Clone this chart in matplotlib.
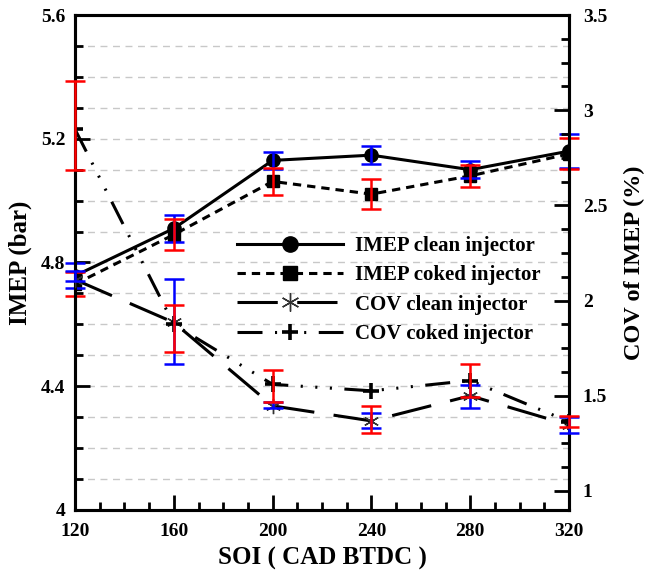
import matplotlib
matplotlib.use("Agg")
import matplotlib.pyplot as plt
from matplotlib.ticker import MultipleLocator
from matplotlib.lines import Line2D

# Start of injection sweep (CAD BTDC)
soi = [120, 160, 200, 240, 280, 320]

# IMEP (bar) with standard-deviation bars
imep_clean = [4.757, 4.91, 5.13, 5.147, 5.10, 5.16]
imep_clean_err = [0.040, 0.045, 0.027, 0.028, 0.027, 0.055]
imep_coked = [4.73, 4.89, 5.062, 5.021, 5.08, 5.151]
imep_coked_err = [0.039, 0.050, 0.043, 0.049, 0.036, 0.050]

# COV of IMEP (%) with bar midpoints and half-widths
cov_clean = [2.11, 1.885, 1.447, 1.368, 1.50, 1.347]
cov_clean_bar_mid = [2.13, 1.89, 1.45, 1.371, 1.495, 1.347]
cov_clean_bar_err = [0.025, 0.224, 0.016, 0.039, 0.059, 0.040]
cov_coked = [2.90, 1.875, 1.56, 1.526, 1.58, 1.364]
cov_coked_bar_mid = [2.92, 1.853, 1.55, 1.376, 1.58, 1.364]
cov_coked_bar_err = [0.233, 0.123, 0.085, 0.071, 0.086, 0.030]

plt.rcParams["font.family"] = ["Liberation Serif", "DejaVu Serif"]
plt.rcParams["font.weight"] = "bold"
plt.rcParams["lines.scale_dashes"] = False

W, H = 655, 574
fig = plt.figure(figsize=(W / 100, H / 100), dpi=100)
x0, x1, y0, y1 = 75, 569, 15, 510
ax = fig.add_axes([x0 / W, 1 - y1 / H, (x1 - x0) / W, (y1 - y0) / H])
ax2 = ax.twinx()

ax.set_xlim(120, 320)
ax.set_ylim(4, 5.6)
ax2.set_ylim(0.9, 3.5)

ax.xaxis.set_major_locator(MultipleLocator(40))
ax.xaxis.set_minor_locator(MultipleLocator(10))
ax.yaxis.set_major_locator(MultipleLocator(0.4))
ax.yaxis.set_minor_locator(MultipleLocator(0.1))
ax2.yaxis.set_major_locator(MultipleLocator(0.5))
ax2.yaxis.set_minor_locator(MultipleLocator(0.125))

ax.set_axisbelow(True)
ax.yaxis.grid(True, which="both", color="#c8c8c8", lw=1.0, ls=(0, (5, 4)))

for a in (ax, ax2):
    for s in a.spines.values():
        s.set_linewidth(2.2)
    a.tick_params(which="major", direction="in", length=11, width=2.0,
                  labelsize=14)
    a.tick_params(which="minor", direction="in", length=6, width=2.0)
ax.tick_params(axis="y", which="both", right=False, pad=7)
ax.tick_params(axis="x", which="both", top=False, pad=9)
ax2.tick_params(axis="y", which="both", left=False, pad=10)

ax.yaxis.set_major_formatter(plt.FuncFormatter(lambda v, p: f"{v:g}"))
ax2.yaxis.set_major_formatter(plt.FuncFormatter(lambda v, p: f"{v:g}"))

lw = 2.2
dash_imep = (0, (6, 4.3))
dash_cov_clean = (0, (29, 14))
dash_cov_coked = (0, (18, 9, 1.5, 9, 1.5, 9, 1.5, 9))

ax.plot(soi, imep_clean, color="black", lw=lw, ls="-", marker="o",
        ms=9.5, zorder=3)
ax.plot(soi, imep_coked, color="black", lw=lw, ls=dash_imep, marker="s",
        ms=8.5, zorder=3)
ax2.plot(soi, cov_clean, color="black", lw=lw, ls=dash_cov_clean,
         marker=(6, 2, 0), ms=11, mew=1.0, mec="#333333", zorder=3)
ax2.plot(soi, cov_coked, color="black", lw=lw, ls=dash_cov_coked,
         marker="+", ms=11, mew=2.6, zorder=3)


def bars(a, y, err, color):
    cont = a.errorbar(soi, y, yerr=err, fmt="none", ecolor=color,
                      elinewidth=1.8, capsize=7, capthick=1.8, zorder=5)
    for art in cont.get_children():
        art.set_clip_on(False)


bars(ax, imep_clean, imep_clean_err, "blue")
bars(ax, imep_coked, imep_coked_err, "red")
bars(ax2, cov_clean_bar_mid, cov_clean_bar_err, "blue")
bars(ax2, cov_coked_bar_mid, cov_coked_bar_err, "red")

for a in (ax, ax2):
    for t in a.get_xticklabels() + a.get_yticklabels():
        t.set_fontweight("bold")

ax.set_xlabel("SOI ( CAD BTDC )", fontsize=18, fontweight="bold", labelpad=5)
ax.set_ylabel("IMEP (bar)", fontsize=18, fontweight="bold", labelpad=6)
ax2.set_ylabel("COV of IMEP (%)", fontsize=17.5, fontweight="bold",
               labelpad=12)

handles = [
    Line2D([], [], color="black", lw=lw, ls="-", marker="o", ms=11),
    Line2D([], [], color="black", lw=lw, ls=dash_imep, marker="s", ms=10),
    Line2D([], [], color="black", lw=lw, ls=dash_cov_clean, marker=(6, 2, 0),
           ms=13, mew=1.0, mec="#333333"),
    Line2D([], [], color="black", lw=lw, ls=dash_cov_coked, marker="+",
           ms=12, mew=2.6),
]
labels = ["IMEP clean injector", "IMEP coked injector",
          "COV clean injector", "COV coked injector"]
fig.legend(handles, labels, loc="upper left",
           bbox_to_anchor=(237 / W, 1 - 236 / H), frameon=False,
           borderpad=0, borderaxespad=0, handlelength=5.1, handletextpad=0.55,
           labelspacing=0.45, prop={"family": "Liberation Serif",
                                     "weight": "bold", "size": 15})

fig.savefig("out.png", dpi=100)
